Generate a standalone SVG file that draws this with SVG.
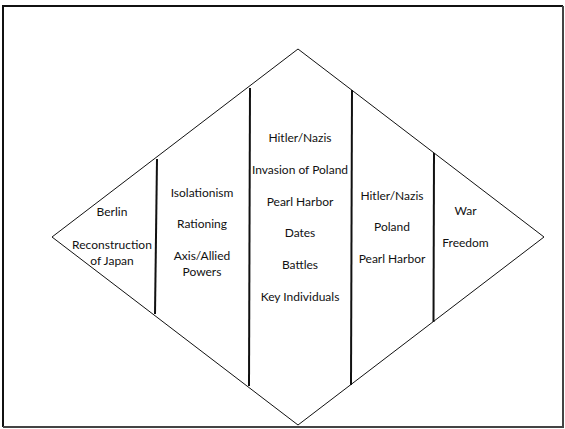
<svg xmlns="http://www.w3.org/2000/svg" width="565" height="429" viewBox="0 0 565 429">
<style>
.t{font-family:Lato,"Open Sans","Liberation Sans",sans-serif;font-size:12px;fill:#111;text-anchor:middle}
.div{stroke:#111;stroke-width:2;fill:none}
.fr{stroke-width:2;fill:none}
</style>
<rect x="0" y="0" width="565" height="429" fill="#fff"/>
<g id="frame">
<path class="fr" d="M3,427 V6 H563" stroke="#111"/>
<path class="fr" d="M563,6 V427 H3" stroke="#444"/>
</g>
<g id="connectors">
<polygon id="diamond" points="298,49 544,237 298,425 52,237" fill="none" stroke="#111" stroke-width="1"/>
<line class="div" x1="157" y1="159" x2="155" y2="314"/>
<line class="div" x1="250" y1="88" x2="249" y2="386"/>
<line class="div" x1="352" y1="90" x2="351" y2="385"/>
<line class="div" x1="434" y1="153" x2="433.5" y2="322"/>
</g>
<g id="col1">
<text class="t" x="112" y="216">Berlin</text>
<text class="t" x="112" y="249">Reconstruction</text>
<text class="t" x="112" y="265">of Japan</text>
</g>
<g id="col2">
<text class="t" x="202" y="197">Isolationism</text>
<text class="t" x="202" y="228">Rationing</text>
<text class="t" x="202" y="260">Axis/Allied</text>
<text class="t" x="202" y="276">Powers</text>
</g>
<g id="col3">
<text class="t" x="300" y="142">Hitler/Nazis</text>
<text class="t" x="300" y="174">Invasion of Poland</text>
<text class="t" x="300" y="206">Pearl Harbor</text>
<text class="t" x="300" y="237">Dates</text>
<text class="t" x="300" y="269">Battles</text>
<text class="t" x="300" y="301">Key Individuals</text>
</g>
<g id="col4">
<text class="t" x="392" y="200">Hitler/Nazis</text>
<text class="t" x="392" y="231">Poland</text>
<text class="t" x="392" y="263">Pearl Harbor</text>
</g>
<g id="col5">
<text class="t" x="465.5" y="215">War</text>
<text class="t" x="465.5" y="247">Freedom</text>
</g>
</svg>
